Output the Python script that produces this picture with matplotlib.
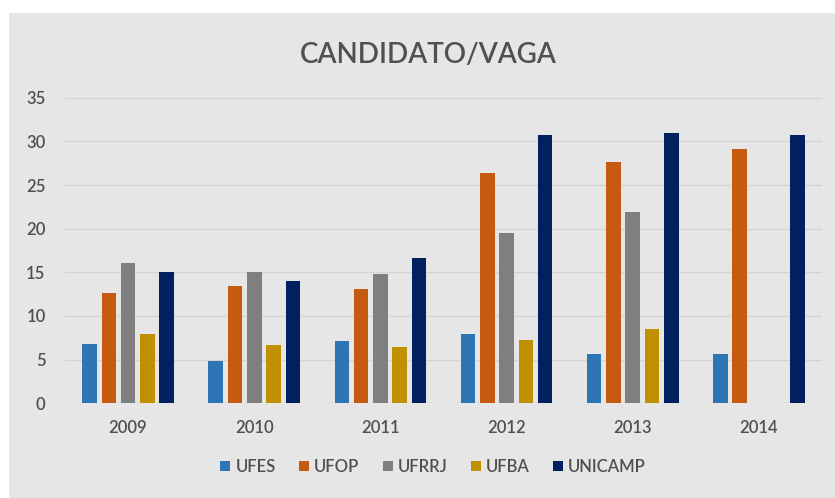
import matplotlib
matplotlib.use("Agg")
import matplotlib.pyplot as plt
from matplotlib.patches import Rectangle
import numpy as np

years = ["2009", "2010", "2011", "2012", "2013", "2014"]
series_names = ["UFES", "UFOP", "UFRRJ", "UFBA", "UNICAMP"]
ufes = [6.8, 4.9, 7.1, 7.9, 5.7, 5.7]
ufop = [12.6, 13.4, 13.1, 26.4, 27.6, 29.1]
ufrrj = [16.1, 15.0, 14.8, 19.5, 21.9, 0]
ufba = [7.9, 6.7, 6.5, 7.3, 8.5, 0]
unicamp = [15.0, 14.0, 16.6, 30.7, 30.9, 30.7]
colors = ["#2e75b6", "#c55a11", "#7f7f7f", "#bf9000", "#002060"]

data = [ufes, ufop, ufrrj, ufba, unicamp]
bg = "#e7e6e7"
txt = "#505050"
font = "Lato"

fig = plt.figure(figsize=(8.35, 4.98), dpi=100)
fig.patch.set_facecolor("white")
fig.patches.append(Rectangle((9/835, 0), 1, 1 - 13/498, transform=fig.transFigure,
                             facecolor=bg, edgecolor="none", zorder=-10))
ax = fig.add_axes([65/835, 1 - 403.3/498, (822 - 65)/835, (403.3 - 97.7)/498])
ax.set_facecolor(bg)

x = np.arange(len(years))
w = 0.115
step = 0.153
for i, (name, vals, c) in enumerate(zip(series_names, data, colors)):
    ax.bar(x + (i - 2) * step, vals, width=w, color=c, label=name, zorder=3)

ax.set_ylim(0, 35)
ax.set_xlim(-0.5, len(years) - 0.5)
ax.set_yticks(np.arange(0, 36, 5))
ax.set_xticks(x)
ax.set_xticklabels(years)
ax.grid(axis="y", color="#d4d4d4", linewidth=1, zorder=0)
for s in ax.spines.values():
    s.set_visible(False)
ax.tick_params(axis="both", length=0, labelsize=12, labelcolor=txt)
ax.tick_params(axis="x", pad=12)
ax.tick_params(axis="y", pad=14)
for lab in ax.get_xticklabels() + ax.get_yticklabels():
    lab.set_fontfamily(font)
    lab.set_fontweight("semibold")

fig.text(0.513, 1 - 55/498, "CANDIDATO/VAGA", ha="center", va="center",
         fontsize=20, color=txt, fontfamily=font, fontweight="semibold")

leg = fig.legend(loc="center", bbox_to_anchor=(433/835, 1 - 467/498), ncol=5,
                 frameon=False, handlelength=0.6, handleheight=0.6,
                 handletextpad=0.3, columnspacing=1.4,
                 prop={"family": font, "size": 12, "weight": "semibold"})
for t in leg.get_texts():
    t.set_color(txt)

fig.savefig("out.png", dpi=100, facecolor=fig.get_facecolor())
